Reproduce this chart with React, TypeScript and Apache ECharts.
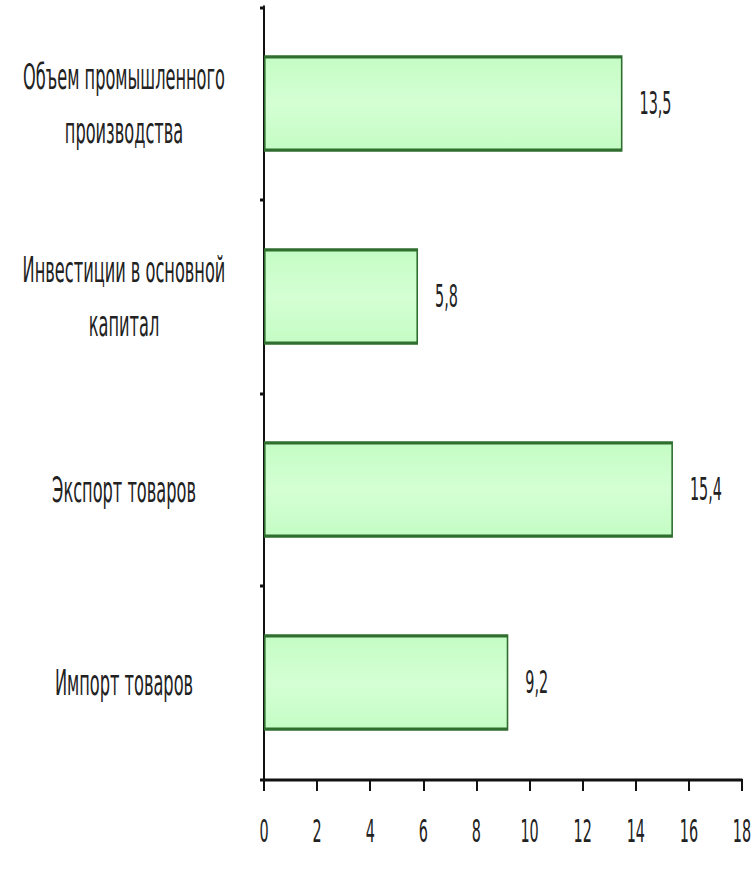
import React, { useEffect, useRef } from "react";
import * as echarts from "echarts";

const categories = [
  "Объем промышленного\nпроизводства",
  "Инвестиции в основной\nкапитал",
  "Экспорт товаров",
  "Импорт товаров",
];
const values = [13.5, 5.8, 15.4, 9.2];
const xMin = 0;
const xMax = 18;
const xStep = 2;

const FONT = "'DejaVu Sans Condensed', 'Liberation Sans Narrow', 'Liberation Sans', Arial, sans-serif";

// The reference image is stretched vertically; draw at half height and stretch.
const STRETCH = 2;
const W = 756;
const H = 872;

export default function App() {
  const ref = useRef<HTMLDivElement>(null);
  useEffect(() => {
    if (!ref.current) return;
    const chart = echarts.init(ref.current, undefined, { renderer: "svg" });
    chart.setOption({
      animation: false,
      backgroundColor: "#ffffff",
      grid: { left: 264, top: 3.5, right: 14, bottom: 46.5, containLabel: false, outerBoundsMode: "none" },
      xAxis: {
        type: "value",
        min: xMin,
        max: xMax,
        interval: xStep,
        splitLine: { show: false },
        axisLine: { show: true, lineStyle: { color: "#111", width: 1.5 } },
        axisTick: { show: true, length: 6, lineStyle: { color: "#111", width: 2 } },
        axisLabel: {
          margin: 18,
          fontSize: 16,
          fontFamily: FONT,
          color: "#222",
        },
      },
      yAxis: {
        type: "category",
        inverse: true,
        data: categories,
        axisLine: { show: true, lineStyle: { color: "#111", width: 2 } },
        axisTick: { show: true, length: 4, lineStyle: { color: "#111", width: 1.5 } },
        axisLabel: {
          margin: 140,
          align: "center",
          fontSize: 18,
          lineHeight: 27,
          fontFamily: FONT,
          color: "#222",
        },
      },
      series: [
        {
          type: "bar",
          data: values,
          barWidth: "50%",
          itemStyle: {
            color: new echarts.graphic.LinearGradient(0, 0, 0, 1, [
              { offset: 0, color: "#c4fcc4" },
              { offset: 0.5, color: "#d4ffd4" },
              { offset: 1, color: "#c4fcc4" },
            ]),
            borderColor: "#2f6e2f",
            borderWidth: 1.6,
          },
          label: {
            show: true,
            position: "right",
            distance: 17,
            fontSize: 16,
            fontFamily: FONT,
            color: "#222",
            formatter: (p: any) => String(p.value).replace(".", ","),
          },
        },
      ],
    });
    return () => chart.dispose();
  }, []);
  return (
    <div
      ref={ref}
      style={{
        width: W,
        height: H / STRETCH,
        position: "absolute",
        left: 0,
        top: 0,
        transform: `scaleY(${STRETCH})`,
        transformOrigin: "0 0",
      }}
    />
  );
}
